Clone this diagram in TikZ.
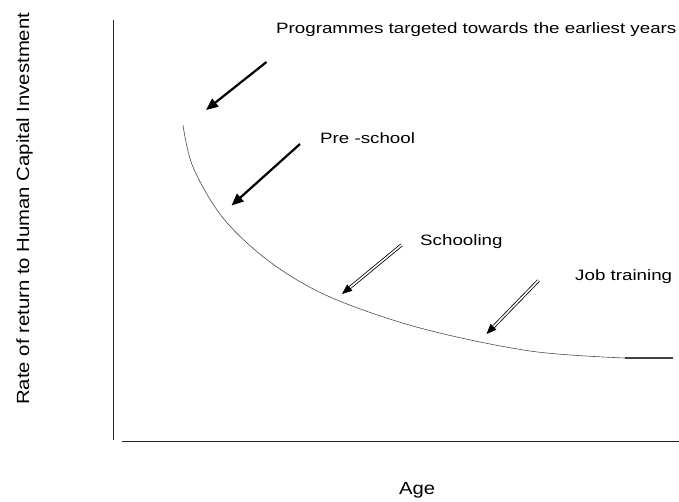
\documentclass[tikz,border=0pt]{standalone}
\usepackage{fontspec}
\setmainfont{Liberation Sans}
\usetikzlibrary{arrows.meta,calc}
\begin{document}
\begin{tikzpicture}[x=1pt,y=-1pt,
  lbl/.style={anchor=base west, inner sep=0pt, font=\fontsize{15}{17}\selectfont},
  biglbl/.style={anchor=base west, inner sep=0pt, font=\fontsize{17.6}{20}\selectfont},
  axis/.style={line width=1pt, draw=black!85},
  curve/.style={line width=0.6pt, draw=black!70},
  flatseg/.style={line width=1.1pt, draw=black!75},
  solidarrow/.style={line width=2.2pt, -{Triangle[length=12pt,width=10pt]}},
  hollowshaft/.style={line width=0.8pt, double=white, double distance=1.6pt},
  hollowhead/.style={line width=0.6pt, -{Triangle[length=10pt,width=8pt]}}
]
\useasboundingbox (0,0) rectangle (679,502);

% axes
\coordinate (ytop) at (113,20);
\coordinate (ybot) at (113,440);
\coordinate (xl) at (122,441);
\coordinate (xr) at (679,441);
\draw[axis] (ytop) -- (ybot);
\draw[axis] (xl) -- (xr);

% curve
\draw[curve] plot[smooth, tension=0.55] coordinates {
  (183,125) (193,167) (223,218) (270,262) (330,297) (420,328) (530,351) (625,358)};
\coordinate (fa) at (625,358);
\coordinate (fb) at (673,358);
\draw[flatseg] (fa) -- (fb);

% solid arrows
\coordinate (a1s) at (266.5,62);
\coordinate (a1t) at (206,110);
\draw[solidarrow] (a1s) -- (a1t);
\coordinate (a2s) at (300,144);
\coordinate (a2t) at (231.5,205.5);
\draw[solidarrow] (a2s) -- (a2t);

% hollow arrows
\coordinate (a3s) at (401.5,245);
\coordinate (a3t) at (342,294);
\draw[hollowshaft, shorten >=8pt] (a3s) -- (a3t);
\draw[hollowhead] ($(a3t)!9pt!(a3s)$) -- (a3t);
\coordinate (a4s) at (538.5,280.5);
\coordinate (a4t) at (486.5,334);
\draw[hollowshaft, shorten >=8pt] (a4s) -- (a4t);
\draw[hollowhead] ($(a4t)!9pt!(a4s)$) -- (a4t);

% labels
\node[lbl] (title) at (276,34) {\scalebox{1.25}[1]{Programmes targeted towards the earliest years}};
\node[lbl] (pre) at (320,144) {\scalebox{1.25}[1]{Pre -school}};
\node[lbl] (sch) at (420,246) {\scalebox{1.25}[1]{Schooling}};
\node[lbl] (job) at (575,280) {\scalebox{1.25}[1]{Job training}};
\node[biglbl] (age) at (399,494) {\scalebox{1.15}[1]{Age}};
\node[biglbl, rotate=90] (ylab) at (29,405) {\scalebox{1.155}[1]{Rate of return to Human Capital Investment}};
\end{tikzpicture}
\end{document}
